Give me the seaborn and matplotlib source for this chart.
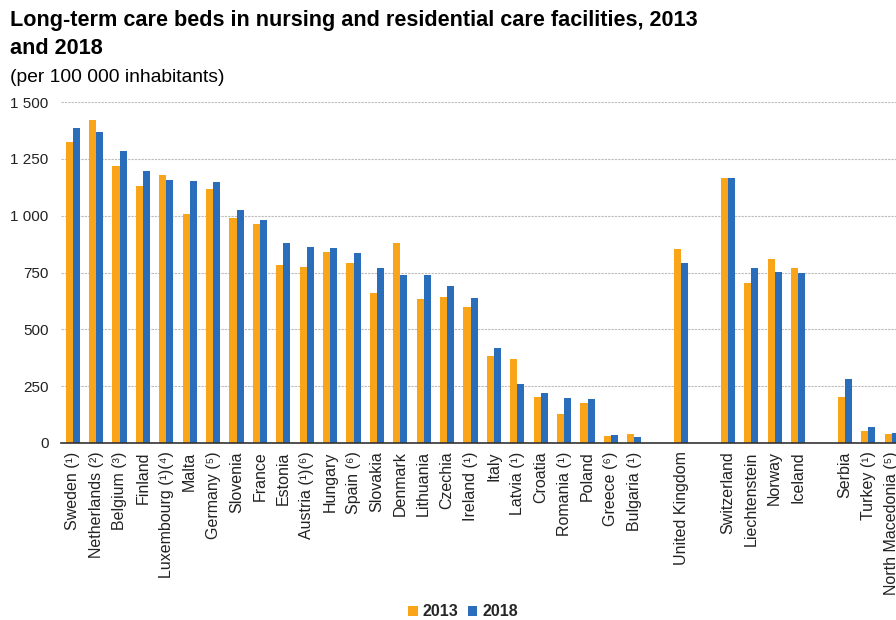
import pandas as pd
import matplotlib.pyplot as plt
import seaborn as sns
from matplotlib.ticker import FuncFormatter, FixedLocator


OUTPUT_PATH = "out.png"

# Category order, blank strings are the gaps between country groups
countries = [
    "Sweden (¹)", "Netherlands (²)", "Belgium (³)", "Finland",
    "Luxembourg (¹)(⁴)", "Malta", "Germany (⁵)", "Slovenia", "France",
    "Estonia", "Austria (¹)(⁶)", "Hungary", "Spain (⁶)", "Slovakia",
    "Denmark", "Lithuania", "Czechia", "Ireland (¹)", "Italy", "Latvia (¹)",
    "Croatia", "Romania (¹)", "Poland", "Greece (⁶)", "Bulgaria (¹)",
    " ", "United Kingdom", "  ", "Switzerland", "Liechtenstein", "Norway",
    "Iceland", "   ", "Serbia", "Turkey (¹)", "North Macedonia (⁵)",
]

beds_2013 = [
    1325, 1421, 1217, 1131, 1179, 1007, 1117, 990, 962, 785, 776, 839, 793,
    661, 880, 633, 644, 598, 384, 370, 202, 129, 176, 29, 38,
    None, 853, None, 1165, 702, 811, 770, None, 202, 51, 38,
]

beds_2018 = [
    1384, 1367, 1285, 1195, 1157, 1152, 1148, 1025, 980, 880, 862, 857, 834,
    770, 739, 739, 689, 639, 416, 261, 220, 198, 194, 34, 25,
    None, 793, None, 1165, 770, 752, 748, None, 283, 70, 43,
]

years = ["2013", "2018"]
colors = ["#FAA519", "#2A6EBB"]


def plot_care_beds():

    # Long form table, gaps are left out and only kept in the order
    rows = []
    for name, v13, v18 in zip(countries, beds_2013, beds_2018):
        if v13 is None:
            continue
        rows.append({"country": name, "year": years[0], "beds": v13})
        rows.append({"country": name, "year": years[1], "beds": v18})
    df = pd.DataFrame(rows)

    sns.set_style("white")
    plt.rcParams["font.family"] = ["Liberation Sans", "DejaVu Sans"]

    fig = plt.figure(figsize=(8.96, 6.2), dpi=100)
    ax = fig.add_axes([61 / 896, 177 / 620, 842.4 / 896, 341 / 620])

    sns.barplot(
        data=df,
        x="country",
        y="beds",
        hue="year",
        order=countries,
        hue_order=years,
        palette=colors,
        width=0.6,
        errorbar=None,
        saturation=1,
        linewidth=0,
        ax=ax,
    )

    ax.set_xlim(-0.5, len(countries) - 0.5)
    ax.set_ylim(0, 1500)
    ax.set_yticks([0, 250, 500, 750, 1000, 1250, 1500])
    ax.yaxis.set_major_formatter(
        FuncFormatter(lambda v, p: f"{int(v):,}".replace(",", " "))
    )
    ax.tick_params(axis="y", length=0, pad=9, labelsize=11,
                   labelcolor="#222222")

    # Category labels, tick marks between categories
    ax.set_xticks(range(len(countries)))
    ax.set_xticklabels(countries, rotation=90, fontsize=11.5,
                       color="#222222")
    ax.tick_params(axis="x", which="major", length=0, pad=6)
    ax.xaxis.set_minor_locator(
        FixedLocator([i - 0.5 for i in range(len(countries) + 1)])
    )
    ax.tick_params(axis="x", which="minor", length=5, width=1,
                   color="#333333", direction="out")

    ax.set_xlabel("")
    ax.set_ylabel("")

    ax.grid(axis="y", color="#BBBBBB", linestyle=(0, (2, 1)), linewidth=0.8)
    ax.set_axisbelow(True)
    for side in ["left", "right", "top"]:
        ax.spines[side].set_visible(False)
    ax.spines["bottom"].set_color("#333333")
    ax.spines["bottom"].set_linewidth(1.2)

    # Legend under the chart
    handles, labels = ax.get_legend_handles_labels()
    ax.legend_.remove()
    fig.legend(
        handles, labels,
        loc="center",
        bbox_to_anchor=(463 / 896, 1 - 612 / 620),
        ncol=2,
        frameon=False,
        handlelength=0.6,
        handleheight=0.6,
        handletextpad=0.3,
        columnspacing=0.6,
        prop={"weight": "bold", "size": 11.5},
    )

    fig.text(
        10 / 896, 1 - 10 / 620,
        "Long-term care beds in nursing and residential care facilities, 2013\nand 2018",
        ha="left", va="top", fontsize=15.6, fontweight="bold",
        linespacing=1.45, color="black",
    )
    fig.text(
        10 / 896, 1 - 69 / 620,
        "(per 100 000 inhabitants)",
        ha="left", va="top", fontsize=13.9, color="black",
    )

    fig.savefig(OUTPUT_PATH, dpi=100)


if __name__ == "__main__":

    plot_care_beds()
